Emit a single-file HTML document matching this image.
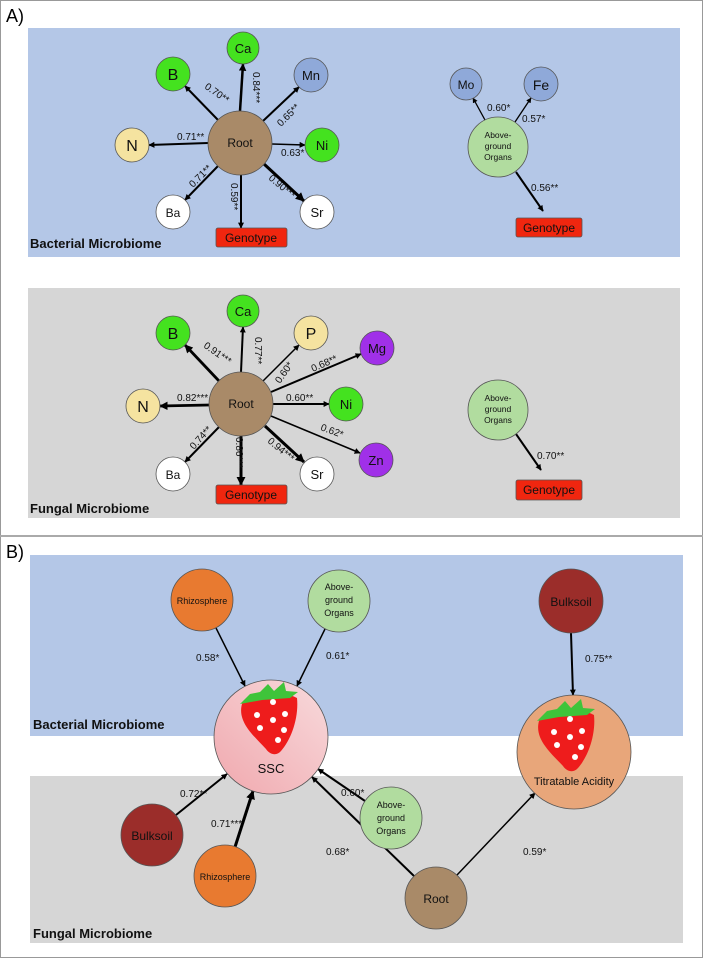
<!DOCTYPE html>
<html><head><meta charset="utf-8"><style>
html,body{margin:0;padding:0;background:#fff}
svg{display:block;font-family:"Liberation Sans",Arial,sans-serif}
</style></head><body>
<svg width="703" height="958" viewBox="0 0 703 958" xmlns="http://www.w3.org/2000/svg">
<defs>
<marker id="a" viewBox="0 0 10 10" refX="9" refY="5" markerWidth="4" markerHeight="4" orient="auto" markerUnits="strokeWidth"><path d="M0,0L10,5L0,10z" fill="#000"/></marker>
<marker id="b" viewBox="0 0 10 10" refX="9" refY="5" markerWidth="3" markerHeight="3" orient="auto" markerUnits="strokeWidth"><path d="M0,0L10,5L0,10z" fill="#000"/></marker>
<linearGradient id="pk" x1="0" y1="1" x2="1" y2="0"><stop offset="0" stop-color="#f0a8ae"/><stop offset="1" stop-color="#f8dadc"/></linearGradient>
<g id="sb">
<path d="M-26,-14 C-20,-26 10,-30 29,-20 C31,0 23,22 13,33 C9,38 2,37 -2,31 C-14,18 -31,4 -26,-14Z" fill="#ee1c1c"/>
<path d="M-28,-14 L-18,-24 L-8,-26 L0,-34 L6,-27 L16,-36 L18,-27 L30,-26 L22,-20 L-6,-18Z" fill="#3fc43a"/>
<circle cx="5" cy="-16" r="3" fill="#fff"/><circle cx="-11" cy="-3" r="3" fill="#fff"/><circle cx="5" cy="2" r="3" fill="#fff"/><circle cx="17" cy="-4" r="3" fill="#fff"/><circle cx="-8" cy="10" r="3" fill="#fff"/><circle cx="16" cy="12" r="3" fill="#fff"/><circle cx="10" cy="22" r="3" fill="#fff"/>
</g>
</defs>
<rect x="0.5" y="0.5" width="702" height="957" fill="#fff" stroke="#999"/>
<line x1="0" y1="536" x2="703" y2="536" stroke="#aaa" stroke-width="2"/>
<text x="6" y="22" font-size="18">A)</text>
<text x="6" y="558" font-size="18">B)</text>

<rect x="28" y="28" width="652" height="229" fill="#b4c7e7"/>
<rect x="28" y="288" width="652" height="230" fill="#d6d6d6"/>
<rect x="30" y="555" width="653" height="181" fill="#b4c7e7"/>
<rect x="30" y="776" width="653" height="167" fill="#d6d6d6"/>

<g stroke="#000" fill="none">
<line x1="240" y1="111" x2="243" y2="64" stroke-width="2.5" marker-end="url(#b)"/>
<line x1="218" y1="120" x2="185" y2="86" stroke-width="2" marker-end="url(#b)"/>
<line x1="263" y1="121" x2="299" y2="87" stroke-width="2" marker-end="url(#b)"/>
<line x1="208" y1="143" x2="149" y2="145" stroke-width="2" marker-end="url(#b)"/>
<line x1="272" y1="144" x2="305" y2="145" stroke-width="1.5" marker-end="url(#a)"/>
<line x1="218" y1="166" x2="185" y2="200" stroke-width="2" marker-end="url(#b)"/>
<line x1="264" y1="164" x2="304" y2="201" stroke-width="3" marker-end="url(#b)"/>
<line x1="241" y1="175" x2="241" y2="228" stroke-width="2" marker-end="url(#b)"/>
<line x1="485" y1="120" x2="473" y2="98" stroke-width="1.3" marker-end="url(#a)"/>
<line x1="515" y1="122" x2="531" y2="98" stroke-width="1.3" marker-end="url(#a)"/>
<line x1="516" y1="172" x2="543" y2="211" stroke-width="2" marker-end="url(#b)"/>
<line x1="241" y1="372" x2="243" y2="327" stroke-width="2" marker-end="url(#b)"/>
<line x1="219" y1="381" x2="185" y2="345" stroke-width="2.8" marker-end="url(#b)"/>
<line x1="263" y1="381" x2="299" y2="345" stroke-width="1.5" marker-end="url(#a)"/>
<line x1="271" y1="392" x2="361" y2="354" stroke-width="2" marker-end="url(#b)"/>
<line x1="209" y1="405" x2="160" y2="406" stroke-width="2.8" marker-end="url(#b)"/>
<line x1="273" y1="404" x2="329" y2="404" stroke-width="2" marker-end="url(#b)"/>
<line x1="271" y1="416" x2="360" y2="453" stroke-width="1.5" marker-end="url(#a)"/>
<line x1="219" y1="427" x2="185" y2="462" stroke-width="2" marker-end="url(#b)"/>
<line x1="265" y1="426" x2="304" y2="462" stroke-width="3" marker-end="url(#b)"/>
<line x1="241" y1="436" x2="241" y2="485" stroke-width="3" marker-end="url(#b)"/>
<line x1="516" y1="434" x2="541" y2="470" stroke-width="2" marker-end="url(#b)"/>
<line x1="216" y1="628" x2="245" y2="686" stroke-width="1.5" marker-end="url(#a)"/>
<line x1="325" y1="629" x2="297" y2="686" stroke-width="1.5" marker-end="url(#a)"/>
<line x1="571" y1="633" x2="573" y2="695" stroke-width="2" marker-end="url(#b)"/>
<line x1="176" y1="815" x2="227" y2="774" stroke-width="2" marker-end="url(#b)"/>
<line x1="235" y1="847" x2="253" y2="791" stroke-width="3" marker-end="url(#b)"/>
<line x1="365" y1="801" x2="318" y2="769" stroke-width="2" marker-end="url(#b)"/>
<line x1="414" y1="876" x2="312" y2="777" stroke-width="2" marker-end="url(#b)"/>
<line x1="457" y1="875" x2="535" y2="793" stroke-width="1.5" marker-end="url(#a)"/>
</g>

<g stroke="#555" stroke-width="0.8">
<circle cx="240" cy="143" r="32" fill="#a98a68"/>
<circle cx="243" cy="48" r="16" fill="#44e21f"/>
<circle cx="173" cy="74" r="17" fill="#44e21f"/>
<circle cx="311" cy="75" r="17" fill="#8fa9d9"/>
<circle cx="132" cy="145" r="17" fill="#f5e3a0"/>
<circle cx="322" cy="145" r="17" fill="#44e21f"/>
<circle cx="173" cy="212" r="17" fill="#fff"/>
<circle cx="317" cy="212" r="17" fill="#fff"/>
<rect x="216" y="228" width="71" height="19" rx="2" fill="#f0260f"/>
<circle cx="466" cy="84" r="16" fill="#8fa9d9"/>
<circle cx="541" cy="84" r="17" fill="#8fa9d9"/>
<circle cx="498" cy="147" r="30" fill="#b1dc9f"/>
<rect x="516" y="218" width="66" height="19" rx="2" fill="#f0260f"/>
<circle cx="241" cy="404" r="32" fill="#a98a68"/>
<circle cx="243" cy="311" r="16" fill="#44e21f"/>
<circle cx="173" cy="333" r="17" fill="#44e21f"/>
<circle cx="311" cy="333" r="17" fill="#f5e3a0"/>
<circle cx="377" cy="348" r="17" fill="#a030e8"/>
<circle cx="143" cy="406" r="17" fill="#f5e3a0"/>
<circle cx="346" cy="404" r="17" fill="#44e21f"/>
<circle cx="376" cy="460" r="17" fill="#a030e8"/>
<circle cx="173" cy="474" r="17" fill="#fff"/>
<circle cx="317" cy="474" r="17" fill="#fff"/>
<rect x="216" y="485" width="71" height="19" rx="2" fill="#f0260f"/>
<circle cx="498" cy="410" r="30" fill="#b1dc9f"/>
<rect x="516" y="480" width="66" height="20" rx="2" fill="#f0260f"/>
<circle cx="202" cy="600" r="31" fill="#e87a30"/>
<circle cx="339" cy="601" r="31" fill="#b1dc9f"/>
<circle cx="571" cy="601" r="32" fill="#9b2d2a"/>
<circle cx="271" cy="737" r="57" fill="url(#pk)"/>
<circle cx="574" cy="752" r="57" fill="#e8a67a"/>
<circle cx="152" cy="835" r="31" fill="#9b2d2a"/>
<circle cx="225" cy="876" r="31" fill="#e87a30"/>
<circle cx="391" cy="818" r="31" fill="#b1dc9f"/>
<circle cx="436" cy="898" r="31" fill="#a98a68"/>
</g>
<use href="#sb" x="268" y="718"/>
<use href="#sb" x="565" y="735"/>

<g text-anchor="middle" fill="#111">
<text x="240" y="147" font-size="12">Root</text>
<text x="243" y="53" font-size="13">Ca</text>
<text x="173" y="80" font-size="16">B</text>
<text x="311" y="80" font-size="13">Mn</text>
<text x="132" y="151" font-size="16">N</text>
<text x="322" y="150" font-size="13">Ni</text>
<text x="173" y="217" font-size="12">Ba</text>
<text x="317" y="217" font-size="13">Sr</text>
<text x="251" y="242" font-size="12">Genotype</text>
<text x="466" y="89" font-size="12">Mo</text>
<text x="541" y="90" font-size="14">Fe</text>
<text x="498" y="138" font-size="8.5">Above-</text>
<text x="498" y="149" font-size="8.5">ground</text>
<text x="498" y="160" font-size="8.5">Organs</text>
<text x="549" y="232" font-size="12">Genotype</text>
<text x="241" y="408" font-size="12">Root</text>
<text x="243" y="316" font-size="13">Ca</text>
<text x="173" y="339" font-size="16">B</text>
<text x="311" y="339" font-size="16">P</text>
<text x="377" y="353" font-size="13">Mg</text>
<text x="143" y="412" font-size="16">N</text>
<text x="346" y="409" font-size="13">Ni</text>
<text x="376" y="465" font-size="13">Zn</text>
<text x="173" y="479" font-size="12">Ba</text>
<text x="317" y="479" font-size="13">Sr</text>
<text x="251" y="499" font-size="12">Genotype</text>
<text x="498" y="401" font-size="8.5">Above-</text>
<text x="498" y="412" font-size="8.5">ground</text>
<text x="498" y="423" font-size="8.5">Organs</text>
<text x="549" y="494" font-size="12">Genotype</text>
<text x="202" y="604" font-size="9">Rhizosphere</text>
<text x="339" y="590" font-size="9">Above-</text>
<text x="339" y="603" font-size="9">ground</text>
<text x="339" y="616" font-size="9">Organs</text>
<text x="571" y="606" font-size="12">Bulksoil</text>
<text x="271" y="773" font-size="13">SSC</text>
<text x="574" y="785" font-size="11">Titratable Acidity</text>
<text x="152" y="840" font-size="12">Bulksoil</text>
<text x="225" y="880" font-size="9">Rhizosphere</text>
<text x="391" y="808" font-size="9">Above-</text>
<text x="391" y="821" font-size="9">ground</text>
<text x="391" y="834" font-size="9">Organs</text>
<text x="436" y="903" font-size="12">Root</text>
</g>

<g font-size="10" fill="#111">
<text transform="translate(253,72) rotate(90)">0.84***</text>
<text transform="translate(204,88) rotate(35)">0.70**</text>
<text transform="translate(281,127) rotate(-45)">0.65**</text>
<text x="177" y="140">0.71**</text>
<text x="281" y="156">0.63*</text>
<text transform="translate(193,188) rotate(-45)">0.71**</text>
<text transform="translate(268,179) rotate(40)">0.90***</text>
<text transform="translate(231,183) rotate(90)">0.59**</text>
<text x="487" y="111">0.60*</text>
<text x="522" y="122">0.57*</text>
<text x="531" y="191">0.56**</text>
<text transform="translate(255,337) rotate(90)">0.77**</text>
<text transform="translate(203,347) rotate(35)">0.91***</text>
<text transform="translate(280,384) rotate(-55)">0.60*</text>
<text transform="translate(313,372) rotate(-24)">0.68**</text>
<text x="177" y="401">0.82***</text>
<text x="286" y="401">0.60**</text>
<text transform="translate(320,430) rotate(20)">0.62*</text>
<text transform="translate(194,450) rotate(-48)">0.74**</text>
<text transform="translate(267,442) rotate(40)">0.94***</text>
<text transform="translate(236,437) rotate(90)">0.86***</text>
<text x="537" y="459">0.70**</text>
<text x="196" y="661">0.58*</text>
<text x="326" y="659">0.61*</text>
<text x="585" y="662">0.75**</text>
<text x="180" y="797">0.72**</text>
<text x="211" y="827">0.71***</text>
<text x="341" y="796">0.60*</text>
<text x="326" y="855">0.68*</text>
<text x="523" y="855">0.59*</text>
</g>

<g font-size="13" font-weight="bold" fill="#111">
<text x="30" y="248">Bacterial Microbiome</text>
<text x="30" y="513">Fungal Microbiome</text>
<text x="33" y="729">Bacterial Microbiome</text>
<text x="33" y="938">Fungal Microbiome</text>
</g>
</svg>
</body></html>
